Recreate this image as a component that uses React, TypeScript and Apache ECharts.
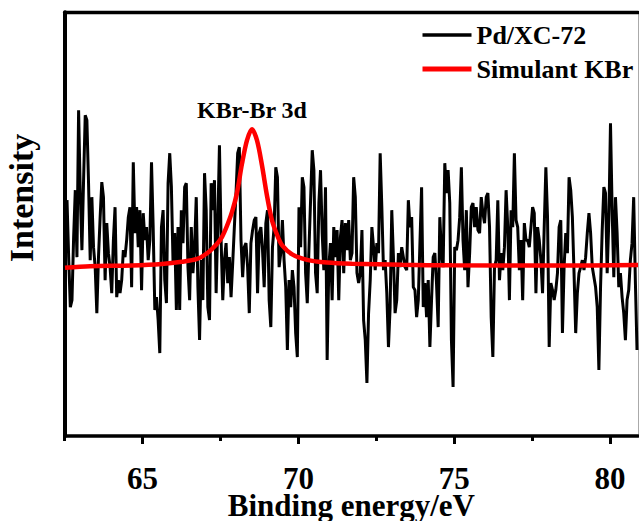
import React, { useEffect, useRef } from "react";
import * as echarts from "echarts";

// Pd/XC-72 spectrum: instrument sampling grid (constant step) and read intensities
const ENERGY_START = 62.574;
const ENERGY_STEP = 0.05318;
const pdCounts: number[] = [
  236, 179, 129, 136, 199, 246, 179, 326, 243, 186,
  256, 321, 316, 253, 176, 239, 189, 169, 123, 179,
  219, 254, 239, 156, 213, 183, 169, 143, 196, 229,
  139, 156, 143, 156, 186, 179, 196, 219, 229, 149,
  274, 203, 229, 189, 226, 146, 223, 196, 209, 176,
  196, 274, 209, 126, 139, 116, 83, 209, 226, 156,
  133, 253, 283, 249, 173, 203, 126, 209,
  126, 226, 193, 249, 253, 169, 136, 209, 163, 189,
  239, 149, 96, 176, 136, 263, 226, 129, 116, 253,
  226, 256, 143, 213, 291, 196, 136, 176, 193, 153,
  179, 139, 173, 209, 243, 283, 289, 196, 159, 189,
  193, 169, 123, 193, 206, 216, 219, 143, 203, 209,
  186, 149, 213, 226, 136, 109, 189, 209, 269, 259,
  169, 183, 216, 176, 149, 86, 156, 129, 166, 149,
  103, 79, 229, 189, 259, 249, 163, 133, 186, 236,
  286, 266, 163, 143, 233, 266, 203, 166, 249, 76,
  169, 193, 136, 209, 179, 206, 136, 199, 216, 163,
  213, 186, 216, 176, 183, 259, 239, 163, 153, 163,
  206, 116, 96, 53, 123, 156, 209, 189, 166, 193,
  183, 283, 229, 166, 176, 143, 89, 129, 226, 179,
  123, 136, 183, 169, 189, 179, 169, 166, 236, 209,
  219, 149, 146, 119, 136, 193, 249, 129, 153, 119,
  156, 89, 136, 179, 183, 153, 109, 219, 183, 169,
  273, 243, 266, 233, 96, 49, 189, 186, 196, 219,
  269, 196, 166, 226, 149, 183, 229, 233, 209, 229,
  206, 203, 239, 223, 213, 239, 243, 209, 119, 79,
  169, 176, 236, 156, 183, 166, 189, 246, 209, 136,
  226, 209, 283, 216, 209, 166, 196, 136, 213, 196,
  196, 189, 209, 229, 223, 143, 209, 196, 176, 143,
  209, 269, 219, 89, 153, 146, 136, 146, 163, 209,
  216, 103, 169, 203, 183, 259, 246, 219, 163, 103,
  143, 163, 169, 176, 166, 179, 203, 223, 203, 169,
  159, 149, 129, 66, 149, 206, 249, 243, 163, 216,
  313, 226, 159, 239, 203, 149, 163, 139, 123, 96,
  136, 146, 176, 193, 239, 156, 86,
];

// Simulated KBr Br 3d curve
const fitEnergy: number[] = [
  62.51, 63.31, 64.66, 65.62, 66.26, 66.75, 67.07, 67.39, 67.55, 67.71,
  67.87, 68.03, 68.19, 68.35, 68.51, 68.67, 68.83, 68.99, 69.15, 69.32,
  69.48, 69.8, 70.28, 70.92, 71.72, 73.33, 74.93, 78.14, 80.9,
];
const fitCounts: number[] = [
  168.3, 169.8, 170.7, 172.2, 174.4, 177.2, 182.8, 192.4, 199.3, 210.4,
  224.2, 243.5, 272.5, 295.9, 307.0, 296.0, 271.2, 240.9, 216.2, 201.0,
  190.7, 181.8, 176.3, 173.6, 172.4, 171.3, 170.8, 170.6, 171.0,
];

const seriesNames = ["Pd/XC-72", "Simulant KBr"];
const xMajorTicks = [65, 70, 75, 80];
const xMinorTicks = [62.5, 67.5, 72.5, 77.5];
const xTitle = "Binding energy/eV";
const yTitle = "Intensity";
const peakLabel = "KBr-Br 3d";
const peakEnergy = 68.51;
const peakCounts = 307;

const FONT = '"Liberation Serif", "Times New Roman", serif';

export default function App() {
  const ref = useRef<HTMLDivElement>(null);

  useEffect(() => {
    if (!ref.current) return;
    const chart = echarts.init(ref.current, null, { renderer: "svg" });

    const pdData = pdCounts.map((c, i) => [ENERGY_START + i * ENERGY_STEP, c]);
    const fitData = fitEnergy.map((e, i) => [e, fitCounts[i]]);

    const xMin = 62.5;
    const xMax = 80.9;

    chart.setOption({
      animation: false,
      backgroundColor: "#fff",
      grid: {
        left: 64.7,
        top: 12.3,
        right: 1,
        bottom: 85,
        containLabel: false,
        outerBoundsMode: "none",
      },
      legend: {
        orient: "vertical",
        left: 420,
        top: 22,
        padding: 0,
        itemWidth: 49,
        itemHeight: 26,
        itemGap: 8,
        itemStyle: { opacity: 0 },
        data: [
          { name: seriesNames[0], lineStyle: { color: "#000", width: 3.3 } },
          { name: seriesNames[1], lineStyle: { color: "#ff0000", width: 5 } },
        ],
        textStyle: {
          fontSize: 26,
          fontWeight: "bold",
          fontFamily: FONT,
          color: "#000",
          lineHeight: 26,
        },
      },
      xAxis: [
        {
          type: "value",
          min: xMin,
          max: xMax,
          position: "bottom",
          axisLine: { show: true, onZero: false, lineStyle: { color: "#000", width: 3.5 } },
          axisTick: {
            show: true,
            inside: false,
            length: 8,
            customValues: xMajorTicks,
            lineStyle: { color: "#000", width: 3 },
          },
          axisLabel: {
            show: true,
            customValues: xMajorTicks,
            margin: 30,
            fontSize: 31,
            lineHeight: 24,
            fontWeight: "bold",
            fontFamily: FONT,
            color: "#000",
          },
          splitLine: { show: false },
          name: xTitle,
          nameLocation: "middle",
          nameGap: 58,
          nameMoveOverlap: false,
          nameTextStyle: {
            fontSize: 31,
            lineHeight: 22,
            fontWeight: "bold",
            fontFamily: FONT,
            color: "#000",
          },
        },
        {
          type: "value",
          min: xMin,
          max: xMax,
          position: "bottom",
          axisLine: { show: false },
          axisTick: {
            show: true,
            inside: false,
            length: 5,
            customValues: xMinorTicks,
            lineStyle: { color: "#000", width: 3 },
          },
          axisLabel: { show: false },
          splitLine: { show: false },
        },
        {
          type: "value",
          min: xMin,
          max: xMax,
          position: "top",
          axisLine: { show: true, onZero: false, lineStyle: { color: "#000", width: 3.3 } },
          axisTick: { show: false },
          axisLabel: { show: false },
          splitLine: { show: false },
        },
      ],
      yAxis: [
        {
          type: "value",
          min: 0,
          max: 424,
          position: "left",
          axisLine: { show: true, onZero: false, lineStyle: { color: "#000", width: 4 } },
          axisTick: { show: false },
          axisLabel: { show: false },
          splitLine: { show: false },
        },
        {
          type: "value",
          min: 0,
          max: 424,
          position: "right",
          axisLine: { show: true, onZero: false, lineStyle: { color: "#aaa", width: 1 } },
          axisTick: { show: false },
          axisLabel: { show: false },
          splitLine: { show: false },
        },
      ],
      graphic: [
        {
          type: "text",
          x: 21,
          y: 198,
          rotation: Math.PI / 2,
          style: {
            text: yTitle,
            fill: "#000",
            fontSize: 34,
            fontWeight: "bold",
            fontFamily: FONT,
            align: "center",
            verticalAlign: "middle",
          },
        },
      ],
      series: [
        {
          name: seriesNames[0],
          type: "line",
          xAxisIndex: 0,
          yAxisIndex: 0,
          data: pdData,
          symbol: "none",
          showSymbol: false,
          color: "#000",
          lineStyle: { color: "#000", width: 3 },
          z: 2,
        },
        {
          name: seriesNames[1],
          type: "line",
          xAxisIndex: 0,
          yAxisIndex: 0,
          data: fitData,
          symbol: "none",
          showSymbol: false,
          smooth: 0.3,
          color: "#ff0000",
          lineStyle: { color: "#ff0000", width: 4.5 },
          z: 3,
          markPoint: {
            silent: true,
            symbol: "circle",
            symbolSize: 0,
            data: [
              {
                coord: [peakEnergy, peakCounts],
                label: {
                  show: true,
                  position: "top",
                  distance: 7,
                  formatter: peakLabel,
                  fontSize: 24,
                  fontWeight: "bold",
                  fontFamily: FONT,
                  color: "#000",
                },
              },
            ],
          },
        },
      ],
    });

    return () => chart.dispose();
  }, []);

  return (
    <div
      ref={ref}
      style={{ position: "fixed", left: 0, top: 0, width: 639, height: 521 }}
    />
  );
}
